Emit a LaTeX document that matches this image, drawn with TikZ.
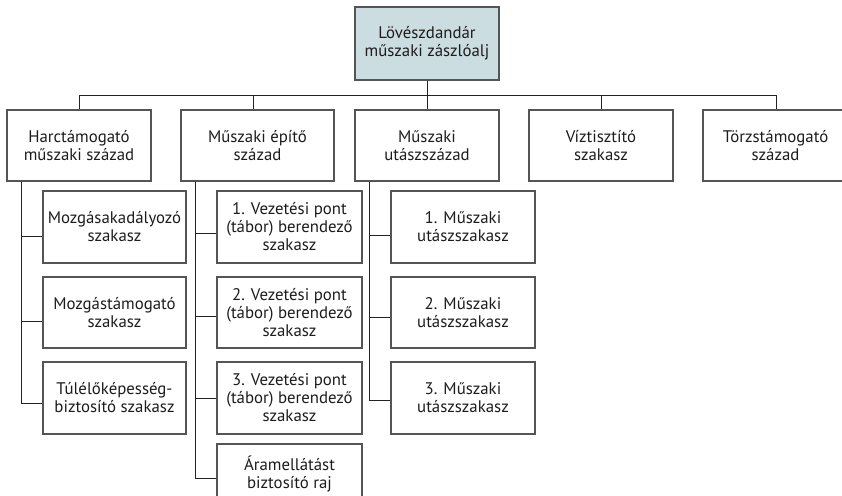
\documentclass[tikz,border=0pt]{standalone}
\usepackage{fontspec}
\setmainfont{PT Sans}
\definecolor{boxline}{RGB}{85,85,85}
\definecolor{linkc}{RGB}{35,35,35}
\definecolor{txt}{RGB}{30,27,28}
\definecolor{hqfill}{RGB}{203,221,225}
\begin{document}
\begin{tikzpicture}[x=1pt,y=-1pt,
  unit/.style={draw=boxline, line width=1.2pt, rectangle, align=center,
    font=\fontsize{16.8}{18}\selectfont, text=txt, inner sep=0pt},
  link/.style={draw=linkc, line width=1pt}]
\useasboundingbox (0,0) rectangle (842,495);
\clip (0,0) rectangle (842,495);

% battalion headquarters
\node[unit, fill=hqfill, minimum width=144, minimum height=73] (hq) at (427,43.5)
  {Lövészdandár\\műszaki zászlóalj};

% companies and platoons directly under the battalion
\node[unit, minimum width=144, minimum height=71] (c1) at (79,145.5) {Harctámogató\\műszaki század};
\node[unit, minimum width=153, minimum height=71] (c2) at (257.5,145.5) {Műszaki építő\\század};
\node[unit, minimum width=144, minimum height=71] (c3) at (427,145.5) {Műszaki\\utászszázad};
\node[unit, minimum width=144, minimum height=71] (c4) at (601,145.5) {Víztisztító\\szakasz};
\node[unit, minimum width=145, minimum height=71] (c5) at (775.5,145.5) {Törzstámogató\\század};

% bus line
\coordinate (busL) at (79,95);
\coordinate (busR) at (776,95);
\coordinate (busM) at (427,95);
\draw[link] (busL) -- (busR);
\draw[link] (hq.south) -- (busM);
\draw[link] (busL) -- (c1.north);
\draw[link] (c2.north -| 253,0) -- (253,95);
\draw[link] (busM) -- (c3.north);
\draw[link] (c4.north) -- (c4.north |- busM);
\draw[link] (busR) -- (busR |- c5.north);

% platoons of the combat support company
\node[unit, minimum width=143, minimum height=72] (p11) at (114.5,227) {Mozgásakadályozó\\szakasz};
\node[unit, minimum width=143, minimum height=71] (p12) at (114.5,312.5) {Mozgástámogató\\szakasz};
\node[unit, minimum width=143, minimum height=72] (p13) at (114.5,398) {Túlélőképesség-\\biztosító szakasz};

% platoons of the construction company
\node[unit, minimum width=145, minimum height=72] (p21) at (289.5,227) {1. Vezetési pont\\(tábor) berendező\\szakasz};
\node[unit, minimum width=145, minimum height=71] (p22) at (289.5,312.5) {2. Vezetési pont\\(tábor) berendező\\szakasz};
\node[unit, minimum width=145, minimum height=72] (p23) at (289.5,398) {3. Vezetési pont\\(tábor) berendező\\szakasz};
\node[unit, minimum width=145, minimum height=60] (p24) at (289.5,474) {Áramellátást\\biztosító raj};

% platoons of the sapper company
\node[unit, minimum width=144, minimum height=72] (p31) at (463,227) {1. Műszaki\\utászszakasz};
\node[unit, minimum width=144, minimum height=71] (p32) at (463,312.5) {2. Műszaki\\utászszakasz};
\node[unit, minimum width=144, minimum height=72] (p33) at (463,398) {3. Műszaki\\utászszakasz};

% trunk lines
\coordinate (t1) at ([xshift=15pt]c1.south west);
\coordinate (t2) at ([xshift=15pt]c2.south west);
\coordinate (t3) at ([xshift=15pt]c3.south west);

\draw[link] (t1) |- ([yshift=-9pt]p11.west);
\draw[link] (t1) |- ([yshift=-8.5pt]p12.west);
\draw[link] (t1) |- ([yshift=-5pt]p13.west);

\draw[link] (t2) |- ([yshift=-6pt]p21.west);
\draw[link] (t2) |- ([yshift=-3.5pt]p22.west);
\draw[link] (t2) |- (p23.west);
\draw[link] (t2) |- ([yshift=-4pt]p24.west);

\draw[link] (t3) |- ([yshift=-8pt]p31.west);
\draw[link] (t3) |- ([yshift=-4.5pt]p32.west);
\draw[link] (t3) |- ([yshift=-2pt]p33.west);
\end{tikzpicture}
\end{document}
